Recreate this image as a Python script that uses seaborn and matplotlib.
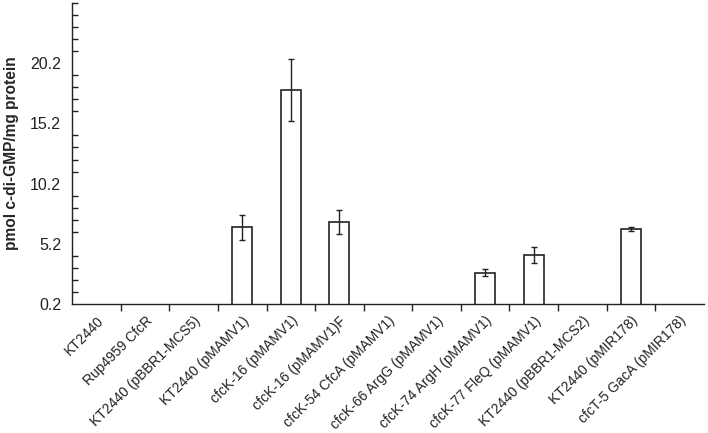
import matplotlib
matplotlib.use("Agg")
import matplotlib.pyplot as plt
import numpy as np
import pandas as pd
import seaborn as sns
from matplotlib.ticker import FixedLocator

strains = [
    "KT2440",
    "Rup4959 CfcR",
    "KT2440 (pBBR1-MCS5)",
    "KT2440 (pMAMV1)",
    "cfcK-16 (pMAMV1)",
    "cfcK-16 (pMAMV1)F",
    "cfcK-54 CfcA (pMAMV1)",
    "cfcK-66 ArgG (pMAMV1)",
    "cfcK-74 ArgH (pMAMV1)",
    "cfcK-77 FleQ (pMAMV1)",
    "KT2440 (pBBR1-MCS2)",
    "KT2440 (pMIR178)",
    "cfcT-5 GacA (pMIR178)",
]
cdg = [0, 0, 0, 6.56, 17.97, 7.03, 0, 0, 2.79, 4.27, 0, 6.42, 0]
err = [0, 0, 0, 1.07, 2.6, 1.0, 0, 0, 0.28, 0.65, 0, 0.14, 0]
y_ticks = [0.2, 5.2, 10.2, 15.2, 20.2]

df = pd.DataFrame({"strain": strains, "cdg": cdg, "err": err})

sns.set_style("white")
plt.rcParams["font.family"] = ["Liberation Sans", "DejaVu Sans"]
plt.rcParams["text.color"] = "#222222"

fig = plt.figure(figsize=(7.08, 4.33), dpi=100)
ax = fig.add_axes([0.102, 0.298, 0.892, 0.695])

sns.barplot(data=df, x="strain", y="cdg", color="white", edgecolor="#222222",
            linewidth=1.2, width=0.41, ax=ax)

xs = np.arange(len(strains))
shown = df["cdg"] > 0
ax.errorbar(xs[shown], df["cdg"][shown], yerr=df["err"][shown], fmt="none",
            ecolor="#222222", elinewidth=1.0, capsize=2.5, capthick=1.0)

ax.set_xlim(-0.5, len(strains) - 0.5)
ax.set_ylim(0.2, 25.2)
ax.set_yticks(y_ticks)
ax.set_yticklabels([f"{v:.1f}" for v in y_ticks])
ax.yaxis.set_minor_locator(FixedLocator(np.arange(0.2, 25.3, 1.0)))
ax.xaxis.set_minor_locator(FixedLocator(np.arange(0.5, len(strains) - 1, 1.0)))

ax.tick_params(axis="y", which="major", direction="inout", length=8, width=1,
               labelsize=11.5, pad=4, colors="#222222")
ax.tick_params(axis="y", which="minor", direction="in", length=4, width=1,
               left=True, color="#222222")
ax.tick_params(axis="x", which="major", length=0, pad=7, labelsize=10.0,
               colors="#222222")
ax.tick_params(axis="x", which="minor", direction="out", length=5, width=1,
               bottom=True, color="#222222")

ax.set_xticks(xs)
ax.set_xticklabels(strains, rotation=45, ha="right", rotation_mode="anchor")

ax.set_xlabel("")
ax.set_ylabel("pmol c-di-GMP/mg protein", fontsize=11.2, fontweight="bold",
              labelpad=8)

for side in ["top", "right"]:
    ax.spines[side].set_visible(False)
for side in ["left", "bottom"]:
    ax.spines[side].set_color("#222222")
    ax.spines[side].set_linewidth(1.0)

fig.savefig("out.png", dpi=100)
